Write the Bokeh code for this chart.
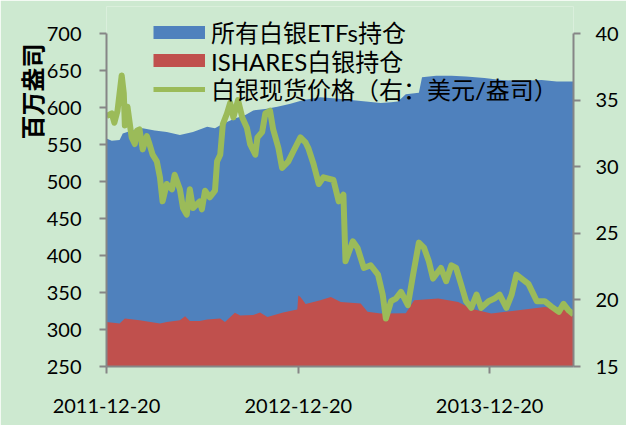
import datetime as dt
from bokeh.plotting import figure
from bokeh.models import (Range1d, LinearAxis, FixedTicker, DatetimeTickFormatter,
                          Legend, LegendItem, Title)
from bokeh.embed import file_html
from bokeh.resources import INLINE

# ---------------- data ----------------
START = dt.datetime(2011, 12, 20)
END_DAY = 891  # last day shown (days after START)

# all silver ETF holdings (million oz), days after START
etf_day = [0, 10, 25, 31, 44, 69, 92, 115, 140, 165, 192, 207, 222, 245, 265, 280, 303,
           326, 351, 376, 408, 437, 466, 495, 523, 543, 556, 571, 596, 602, 629, 658,
           686, 721, 753, 792, 830, 859, 891]
etf_total = [558, 555, 556, 565, 568, 572, 569, 567, 563, 567, 574, 572, 578, 585, 590, 596, 598,
             601, 605, 610, 614, 612, 610, 608, 606, 607, 608, 618, 620, 641, 643, 643,
             642, 640, 637, 636, 637, 635, 635]

# iShares silver holdings (million oz)
ishares_day = [0, 25, 35, 63, 102, 115, 140, 150, 159, 178, 192, 217, 226, 245, 255, 280, 293,
               307, 332, 337, 357, 364, 366, 370, 380, 408, 428, 447, 485, 498, 523, 571,
               587, 633, 671, 696, 734, 786, 836, 878, 887, 891]
ishares_hold = [310, 308, 315, 312.6, 308, 310, 312.6, 318, 311.6, 311.6, 313.5, 315, 310, 322.6, 319, 319.6, 323,
                317, 322, 323, 326, 327, 346, 344, 334.6, 339.6, 344, 337, 335, 324, 321.6, 322,
                339.6, 342, 337, 328, 321.6, 326, 330.5, 326, 321.6, 317]

# silver spot price (USD/oz, right axis)
price_day = [0, 10, 15, 21, 29, 33, 35, 40, 48, 54, 58, 63, 69, 77, 82, 88, 96, 102, 107, 115,
             125, 130, 140, 146, 153, 159, 165, 178, 182, 188, 197, 207, 211, 217, 222, 230,
             236, 242, 251, 259, 268, 274, 284, 288, 297, 303, 312, 318, 328, 335, 347, 357,
             370, 380, 385, 395, 405, 414, 433, 443, 452, 456, 470, 479, 491, 504, 518, 527,
             533, 543, 552, 562, 575, 585, 596, 606, 615, 623, 638, 648, 658, 667, 677, 686,
             696, 706, 715, 729, 740, 750, 763, 773, 782, 792, 805, 815, 821, 836, 849, 863,
             872, 882, 891]
price = [33.8, 34.0, 33.3, 34.2, 36.85, 35.5, 33.1, 34.5, 32.2, 31.7, 32.7, 32.8, 31.3, 32.3, 31.7, 30.9, 30.4, 29.2, 27.4, 28.7,
         28.3, 29.4, 28.3, 26.9, 26.4, 28.3, 26.9, 27.4, 26.8, 28.2, 27.7, 28.2, 30.4, 30.9, 33.2, 34.0,
         34.8, 33.7, 35.0, 33.7, 32.9, 31.7, 30.9, 32.2, 32.6, 34.0, 34.2, 32.8, 31.4, 29.9, 30.4, 31.2,
         32.2, 31.8, 31.4, 30.2, 28.7, 29.2, 29.0, 27.4, 27.9, 22.9, 24.4, 23.9, 22.4, 22.6, 21.9, 20.4,
         18.6, 19.9, 20.1, 20.6, 19.6, 21.9, 24.3, 23.9, 22.9, 21.6, 22.4, 21.4, 22.6, 22.4, 21.1, 19.9,
         19.4, 20.4, 19.4, 19.9, 20.1, 20.4, 19.4, 20.4, 21.9, 21.6, 21.2, 20.4, 19.9, 19.9, 19.5, 19.1,
         19.7, 19.2, 18.9]

x_tick_labels = ["2011-12-20", "2012-12-20", "2013-12-20"]
left_ticks = [250, 300, 350, 400, 450, 500, 550, 600, 650, 700]
right_ticks = [15, 20, 25, 30, 35, 40]
series_names = ["所有白银ETFs持仓", "ISHARES白银持仓", "白银现货价格（右：美元/盎司）"]
y_title = "百万盎司"

# ---------------- style ----------------
BG = "#cde9d0"
BLUE = "#4f81bd"
RED = "#c0504d"
GREEN = "#9bbb59"
AXIS = "#868686"
LATIN = "Lato"
MIXED = "Lato, 'Noto Sans CJK SC'"

FRAME_TOP = 6         # px from figure top where the (invisible) frame starts
AXIS_TOP = 33         # px where the 700 / 40 ticks sit
AXIS_BOTTOM = 366     # px of the x axis line
FIG_W, FIG_H = 626, 425
FRAME_LEFT, FRAME_RIGHT = 106, 573
TITLE_TOP = 43        # px where the vertical y-title starts
LEGEND_ROW_CENTERS = [32, 60.5, 89]   # px from figure top
LEGEND_HALF_ROW = 17


def to_dates(days):
    return [START + dt.timedelta(days=d) for d in days]


def ms(d):
    return (d - dt.datetime(1970, 1, 1)).total_seconds() * 1000.0


def padded_top(lo, hi):
    # extend the range upward so that `hi` lands at AXIS_TOP while the frame starts higher
    per_px = (hi - lo) / (AXIS_BOTTOM - AXIS_TOP)
    return hi + (AXIS_TOP - FRAME_TOP) * per_px


p = figure(width=FIG_W, height=FIG_H, x_axis_type="datetime", output_backend="svg",
           toolbar_location=None, tools="",
           x_range=Range1d(START, START + dt.timedelta(days=END_DAY)),
           y_range=Range1d(left_ticks[0], padded_top(left_ticks[0], left_ticks[-1])),
           min_border_left=FRAME_LEFT, min_border_right=FIG_W - FRAME_RIGHT,
           min_border_top=FRAME_TOP, min_border_bottom=FIG_H - AXIS_BOTTOM,
           background_fill_color=BG, border_fill_color=BG, outline_line_color=None)
p.extra_y_ranges = {"price": Range1d(right_ticks[0], padded_top(right_ticks[0], right_ticks[-1]))}
p.xgrid.visible = False
p.ygrid.visible = False

p.varea(x=to_dates(etf_day), y1=left_ticks[0], y2=etf_total, fill_color=BLUE)
p.varea(x=to_dates(ishares_day), y1=left_ticks[0], y2=ishares_hold, fill_color=RED)
p.line(x=to_dates(price_day), y=price, line_color=GREEN, line_width=6,
       line_join="round", y_range_name="price")

right_axis = LinearAxis(y_range_name="price", ticker=FixedTicker(ticks=right_ticks),
                        bounds=(right_ticks[0], right_ticks[-1]))
p.add_layout(right_axis, "right")

tick_dates = [dt.datetime.strptime(s, "%Y-%m-%d") for s in x_tick_labels]
p.xaxis.ticker = FixedTicker(ticks=[ms(d) for d in tick_dates])
fmt = "%Y-%m-%d"
p.xaxis.formatter = DatetimeTickFormatter(days=fmt, months=fmt, years=fmt, hours=fmt,
                                          hourmin=fmt, minutes=fmt, minsec=fmt, seconds=fmt,
                                          milliseconds=fmt, microseconds=fmt, context=None)
p.yaxis[0].ticker = FixedTicker(ticks=left_ticks)
p.yaxis[0].bounds = (left_ticks[0], left_ticks[-1])

for ax in [p.xaxis[0], p.yaxis[0], right_axis]:
    ax.axis_line_color = AXIS
    ax.axis_line_width = 2
    ax.major_tick_line_color = AXIS
    ax.major_tick_line_width = 2
    ax.major_tick_out = 7
    ax.major_tick_in = 0
    ax.minor_tick_line_color = None
    ax.major_label_text_font = LATIN
    ax.major_label_text_font_size = "20px"
    ax.major_label_text_color = "#000000"
p.xaxis[0].major_label_standoff = 25
p.yaxis[0].major_label_standoff = 18
right_axis.major_label_standoff = 15

# y-axis title, placed at the top end of the left side like the original
p.add_layout(Title(text=y_title, align="right", offset=TITLE_TOP - FRAME_TOP,
                   text_font="Noto Sans CJK SC",
                   text_font_size="24px", text_font_style="bold", text_color="#000000",
                   vertical_align="bottom", standoff=-10), "left")

# legend: one single-row legend per series, with proxy line renderers
# (thick lines look like Excel's swatches)
nan = float("nan")
swatches = [dict(line_color=BLUE, line_width=13),
            dict(line_color=RED, line_width=13),
            dict(line_color=GREEN, line_width=5)]
for name, sw, cy in zip(series_names, swatches, LEGEND_ROW_CENTERS):
    proxy = p.line(x=[START], y=[nan], **sw)
    bottom_from_frame = AXIS_BOTTOM - (cy + LEGEND_HALF_ROW)
    lg = Legend(items=[LegendItem(label=name, renderers=[proxy])],
                location=(47, bottom_from_frame), orientation="vertical",
                glyph_width=52, glyph_height=20, spacing=0, padding=0, margin=0,
                label_standoff=6, border_line_alpha=0, background_fill_alpha=0,
                label_text_font=MIXED, label_text_font_size="24px",
                label_text_color="#000000")
    p.add_layout(lg)

open("out.html", "w").write(file_html(p, INLINE))
